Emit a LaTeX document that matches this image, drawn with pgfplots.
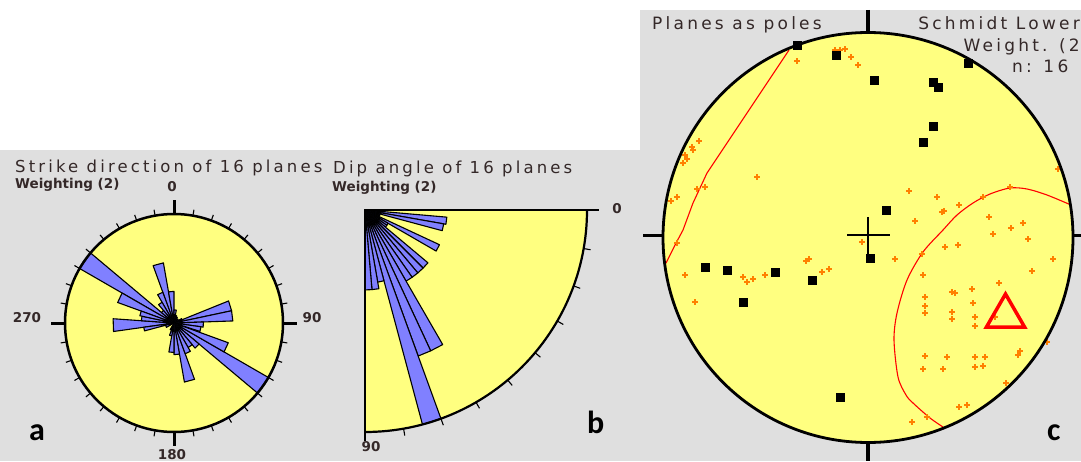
\documentclass[border=0pt]{standalone}
\usepackage{pgfplots}
\pgfplotsset{compat=1.18}
\usepackage{fontspec}
\setmainfont{DejaVu Sans}
\newfontfamily\titlefont[LetterSpace=19]{DejaVu Sans}
\newfontfamily\labfont{Carlito}
\definecolor{bg}{RGB}{223,223,223}
\definecolor{yel}{RGB}{255,255,128}
\definecolor{blu}{RGB}{128,128,255}
\definecolor{orn}{RGB}{255,128,0}
\definecolor{txt}{RGB}{52,40,40}
\pgfplotsset{wedge/.style={fill=blu, draw=black, line width=1.1pt, line join=round, data cs=polar, mark=none}}
\newcommand{\wdg}[3]{\addplot[wedge] coordinates {(0,0) (#1,#3) (#2,#3)} -- cycle;}
\begin{document}
\begin{tikzpicture}[x=1pt,y=1pt]
\useasboundingbox (0,0) rectangle (1081,461);
\clip (0,0) rectangle (1081,461);
\fill[white] (0,0) rectangle (1081,461);
\fill[bg] (0,0) rectangle (640,311);
\fill[bg] (640,0) rectangle (1081,451);

% ---------- panel a ----------
\begin{scope}
\clip (0,0) rectangle (330,311);
\node[anchor=base west, inner sep=0, text=txt, font=\titlefont\fontsize{16.5}{19}\selectfont] at (15,288) {Strike direction of 16 planes};
\end{scope}
\node[anchor=base west, inner sep=0, text=txt, font=\bfseries\fontsize{13.5}{16}\selectfont] at (15,272) {Weighting (2)};
\fill[yel] (174,138) circle (109);
\begin{axis}[at={(174pt,138pt)}, anchor=center, scale only axis, width=218pt, height=218pt,
  xmin=-1, xmax=1, ymin=-1, ymax=1, hide axis, clip=false]
% compass bins converted to math angles (90 - azimuth)
\wdg{-210}{-220}{1.0}
\wdg{-30}{-40}{1.0}
\wdg{-200}{-210}{0.55}
\wdg{-20}{-30}{0.53}
\wdg{-250}{-260}{0.56}
\wdg{-70}{-80}{0.55}
\wdg{-260}{-270}{0.29}
\wdg{-80}{-90}{0.29}
\wdg{22}{12}{0.54}
\wdg{12}{2}{0.54}
\wdg{-172}{-184}{0.56}
\wdg{2}{-8}{0.27}
\wdg{-8}{-18}{0.25}
\wdg{-184}{-192}{0.30}
\wdg{-165}{-172}{0.28}
\wdg{-192}{-200}{0.32}
\wdg{-240}{-250}{0.30}
\wdg{-230}{-240}{0.22}
\wdg{-220}{-230}{0.15}
\wdg{-40}{-50}{0.30}
\wdg{-50}{-60}{0.26}
\wdg{-60}{-70}{0.30}
\wdg{-90}{-100}{0.27}
\wdg{90}{80}{0.12}
\wdg{80}{70}{0.07}
\wdg{70}{60}{0.06}
\wdg{50}{40}{0.05}
\wdg{30}{22}{0.08}
\wdg{-100}{-110}{0.12}
\wdg{-110}{-120}{0.07}
\wdg{-150}{-165}{0.08}
\end{axis}
\draw[line width=2.5pt] (174,138) circle (109);
\foreach \a in {0,10,...,350}{
  \draw[line width=1.1pt] ([shift={(174,138)}]90-\a:109) -- ([shift={(174,138)}]90-\a:115);
}
\foreach \a in {0,90,180,270}{
  \draw[line width=3pt] ([shift={(174,138)}]90-\a:109) -- ([shift={(174,138)}]90-\a:123);
}
\begin{scope}[every node/.style={inner sep=0, text=txt, font=\bfseries\fontsize{13.5}{15}\selectfont}]
\node at (172,274) {0};
\node at (312,143) {90};
\node at (27,143) {270};
\node at (172,6) {180};
\end{scope}
\node[anchor=base west, inner sep=0, font=\labfont\bfseries\fontsize{32}{36}\selectfont] at (29,21) {a};

% ---------- panel b ----------
\node[anchor=base west, inner sep=0, text=txt, font=\titlefont\fontsize{16.5}{19}\selectfont] at (333,287) {Dip angle of 16 planes};
\node[anchor=base west, inner sep=0, text=txt, font=\bfseries\fontsize{13.5}{16}\selectfont] at (332,269) {Weighting (2)};
\fill[yel] (365,251) -- (587,251) arc (0:-90:222) -- cycle;
\begin{axis}[at={(476pt,140pt)}, anchor=center, scale only axis, width=222pt, height=222pt,
  xmin=0, xmax=1, ymin=-1, ymax=0, hide axis, clip=false]
% dip bins (math angle = -dip)
\wdg{0}{-5}{0.06}
\wdg{-5}{-10}{0.37}
\wdg{-10}{-15}{0.36}
\wdg{-15}{-20}{0.07}
\wdg{-20}{-25}{0.07}
\wdg{-25}{-30}{0.37}
\wdg{-30}{-35}{0.12}
\wdg{-35}{-40}{0.12}
\wdg{-40}{-45}{0.37}
\wdg{-45}{-50}{0.37}
\wdg{-50}{-55}{0.37}
\wdg{-55}{-60}{0.37}
\wdg{-60}{-65}{0.70}
\wdg{-65}{-70}{0.70}
\wdg{-70}{-75}{1.0}
\wdg{-75}{-80}{0.33}
\wdg{-80}{-85}{0.36}
\wdg{-85}{-90}{0.36}
\end{axis}
\draw[line width=2.2pt] (587,251) arc (0:-90:222);
\draw[line width=2.2pt] (365,251) -- (599,251);
\draw[line width=2.8pt] (365,251) -- (365,20);
\foreach \p in {10,20,...,80}{
  \draw[line width=1.1pt] ([shift={(365,251)}]-\p:222) -- ([shift={(365,251)}]-\p:229);
}
\node[inner sep=0, text=txt, font=\bfseries\fontsize{13.5}{15}\selectfont] at (617,252) {0};
\node[inner sep=0, text=txt, font=\bfseries\fontsize{13.5}{15}\selectfont] at (371,14) {90};
\node[anchor=base west, inner sep=0, font=\labfont\bfseries\fontsize{32}{36}\selectfont] at (587,28) {b};

% ---------- panel c ----------
\node[anchor=base west, inner sep=0, text=txt, font=\titlefont\fontsize{17}{20}\selectfont] at (652,431) {Planes as poles};
\node[anchor=base east, inner sep=0, text=txt, font=\titlefont\fontsize{17}{20}\selectfont] at (1080,431) {Schmidt Lower};
\node[anchor=base east, inner sep=0, text=txt, font=\titlefont\fontsize{17}{20}\selectfont] at (1080,409) {Weight. (2};
\node[anchor=base west, inner sep=0, text=txt, font=\titlefont\fontsize{17}{20}\selectfont] at (1012,388) {n: 16};
\fill[yel] (868,223.5) circle (205);
\begin{axis}[at={(868pt,223.5pt)}, anchor=center, scale only axis, width=410pt, height=409pt,
  xmin=663, xmax=1073, ymin=33, ymax=442, y dir=reverse, hide axis, clip=false]
% great circle
\addplot[red, line width=1.1pt, mark=none] coordinates {(789,50)(767,83)(747,113)(727,143)(707,173)(693,203)(683,230)(675,245)(666,263)};
% small circle (cone)
\addplot[red, line width=1.1pt, mark=none, smooth, tension=0.5] coordinates {(1071,205)(1047,195)(1027,189)(1010,188)(990,194)(973,203)(957,215)(943,230)(923,252)(907,280)(897,313)(894,340)(898,377)(906,395)(913,403)(930,418)(943,427)};
% density points
\addplot[only marks, mark=+, mark size=3pt, orn, line width=1.5pt] coordinates {
(835,50)(840,50)(845,49)(797,61)(851,57)(858,65)
(699,141)(692,147)(693,150)(685,155)(687,159)(683,163)
(757,177)(697,189)(705,187)(671,201)(677,197)
(909,191)(937,197)(959,205)(942,212)(944,211)(915,221)
(989,217)(983,197)(1010,187)(1023,223)(1058,169)(1011,228)
(993,234)(1028,239)(862,242)(958,245)(945,247)(677,243)
(806,261)(809,259)(895,259)(922,254)(1053,259)(1032,271)(685,275)
(743,277)(747,282)(753,279)(765,275)(822,272)(829,269)(923,275)(999,283)
(695,302)(952,292)(955,293)(972,289)(925,297)(925,306)(925,313)(952,312)(952,319)(973,303)(975,317)(975,326)(995,317)
(1047,342)(1020,351)(1018,355)(925,356)(947,357)(975,357)(985,357)(923,369)(943,369)(975,367)(983,366)(1006,383)(959,407)(967,405)(912,422)(927,417)
};
% poles
\addplot[only marks, mark=square*, mark size=3.8pt, black] coordinates {
(797,45)(836,55)(874,80)(933,82)(938,87)(968,63)(933,126)(923,142)(886,210)(870,258)(705,267)(727,270)(775,272)(812,280)(743,302)(840,397)
};
% mean pole
\addplot[only marks, mark=triangle, mark size=22pt, red, line width=3.5pt, mark options={line join=miter}] coordinates {(1005.5,316)};
\end{axis}
\draw[line width=2.8pt] (868,223.5) circle (205);
\draw[line width=3.5pt] (868,451) -- (868,428);
\draw[line width=3.5pt] (868,19) -- (868,0);
\draw[line width=3pt] (643,225) -- (663,225);
\draw[line width=3pt] (1073,225) -- (1081,225);
\draw[line width=2.5pt] (847,226) -- (890,226);
\draw[line width=2.5pt] (868,244) -- (868,206);
\node[anchor=base west, inner sep=0, font=\labfont\bfseries\fontsize{32}{36}\selectfont] at (1047,21) {c};
\end{tikzpicture}
\end{document}
